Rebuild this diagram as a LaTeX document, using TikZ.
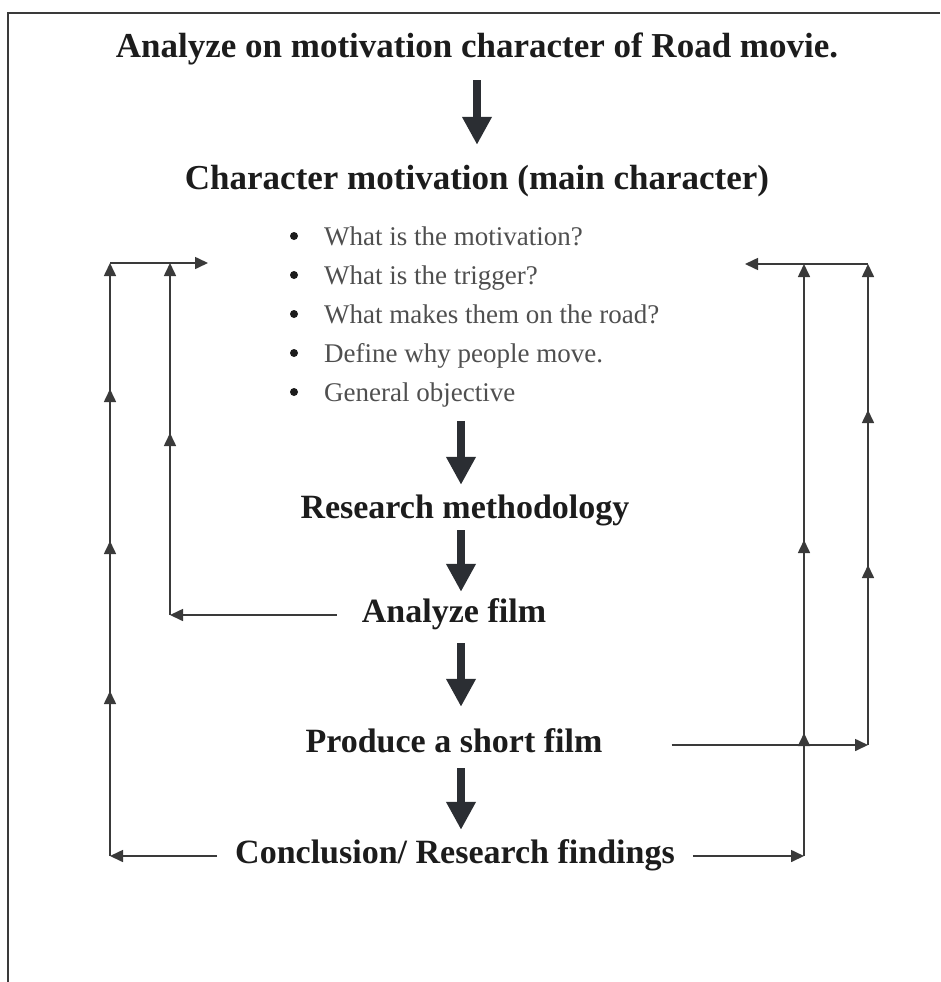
\documentclass[tikz,border=0pt]{standalone}
\usepackage{fontspec}
\setmainfont{Liberation Serif}
\usetikzlibrary{arrows.meta,decorations.markings}

\definecolor{ink}{HTML}{1C1C1C}
\definecolor{soft}{HTML}{4F4F4F}
\definecolor{wire}{HTML}{3A3A3A}
\definecolor{slab}{HTML}{2B2E33}

\tikzset{fbtip/.tip={Triangle[length=13pt,width=12pt]}}

\begin{document}
\begin{tikzpicture}[x=1pt, y=-1pt,
    heading/.style={font=\bfseries\fontsize{35}{40}\selectfont, text=ink, inner sep=0pt, text height=22pt, text depth=8pt, anchor=base},
    stage/.style={heading, font=\bfseries\fontsize{34}{40}\selectfont},
    ques/.style={font=\fontsize{27}{32}\selectfont, text=soft, inner sep=0pt, anchor=base west},
    dot/.style={circle, fill=ink, inner sep=0pt, minimum size=8pt},
    bigarrow/.style={line width=8pt, draw=slab, -{Triangle[length=28pt,width=28pt]}},
    fb/.style={line width=1.6pt, draw=wire, -fbtip},
    mk/.style={postaction={decorate, decoration={markings, mark=at position #1 with {\arrow{fbtip}}}}},
    frame/.style={line width=1.5pt, draw=wire}
]
\useasboundingbox (0,0) rectangle (940,982);

% frame edges
\draw[frame] (940,13) -- (8,13) -- (8,982);

% --- main column ---
\node[heading] (title) at (477,57) {Analyze on motivation character of Road movie.};
\node[heading] (charmot) at (477,189) {Character motivation (main character)};

\foreach \q [count=\i] in {What is the motivation?, What is the trigger?, What makes them on the road?, Define why people move., General objective} {
    \node[dot] (b\i) at (294,{236+39*(\i-1)}) {};
    \node[ques] (q\i) at (324,{245+39*(\i-1)}) {\q};
}

\node[stage] (method) at (465,518) {Research methodology};
\node[stage] (analyze) at (454,622) {Analyze film};
\node[stage] (produce) at (454,752) {Produce a short film};
\node[stage] (concl) at (455,863) {Conclusion/ Research findings};

% --- Arrows ---
\coordinate (spine) at (461,0);
\draw[bigarrow, shorten <=15pt, shorten >=22pt] (title.south) -- (charmot.north);
\draw[bigarrow, shorten <=14pt, shorten >=11pt] (q5.south -| spine) -- (method.north -| spine);
\draw[bigarrow, shorten <=4pt, shorten >=8pt] (method.south -| spine) -- (analyze.north -| spine);
\draw[bigarrow, shorten <=13pt, shorten >=23pt] (analyze.south -| spine) -- (produce.north -| spine);
\draw[bigarrow, shorten <=8pt, shorten >=11pt] (produce.south -| spine) -- (concl.north -| spine);

% --- feedback, left ---
\coordinate (lo) at (110,263);
\coordinate (li) at (170,263);
\coordinate (tipL) at (208,263);
\draw[fb, shorten <=18pt] (concl.west) -- (concl.west -| lo);
\draw[fb, mk=165pt, mk=315pt, mk=467pt] (concl.west -| lo) -- (lo);
\draw[fb] (lo) -- (tipL);
\draw[fb, shorten <=25pt] (analyze.west) -- (analyze.west -| li);
\draw[fb, mk=182pt] (analyze.west -| li) -- (li);

% --- feedback, right ---
\coordinate (ro) at (868,264);
\coordinate (ri) at (804,264);
\coordinate (tipR) at (745,264);
\draw[fb, shorten <=69pt] (produce.east) -- (produce.east -| ro);
\draw[fb, mk=180pt, mk=335pt] (produce.east -| ro) -- (ro);
\draw[fb] (ro) -- (tipR);
\draw[fb, shorten <=18pt] (concl.east) -- (concl.east -| ri);
\draw[fb, mk=123pt, mk=316pt] (concl.east -| ri) -- (ri);

\end{tikzpicture}
\end{document}
